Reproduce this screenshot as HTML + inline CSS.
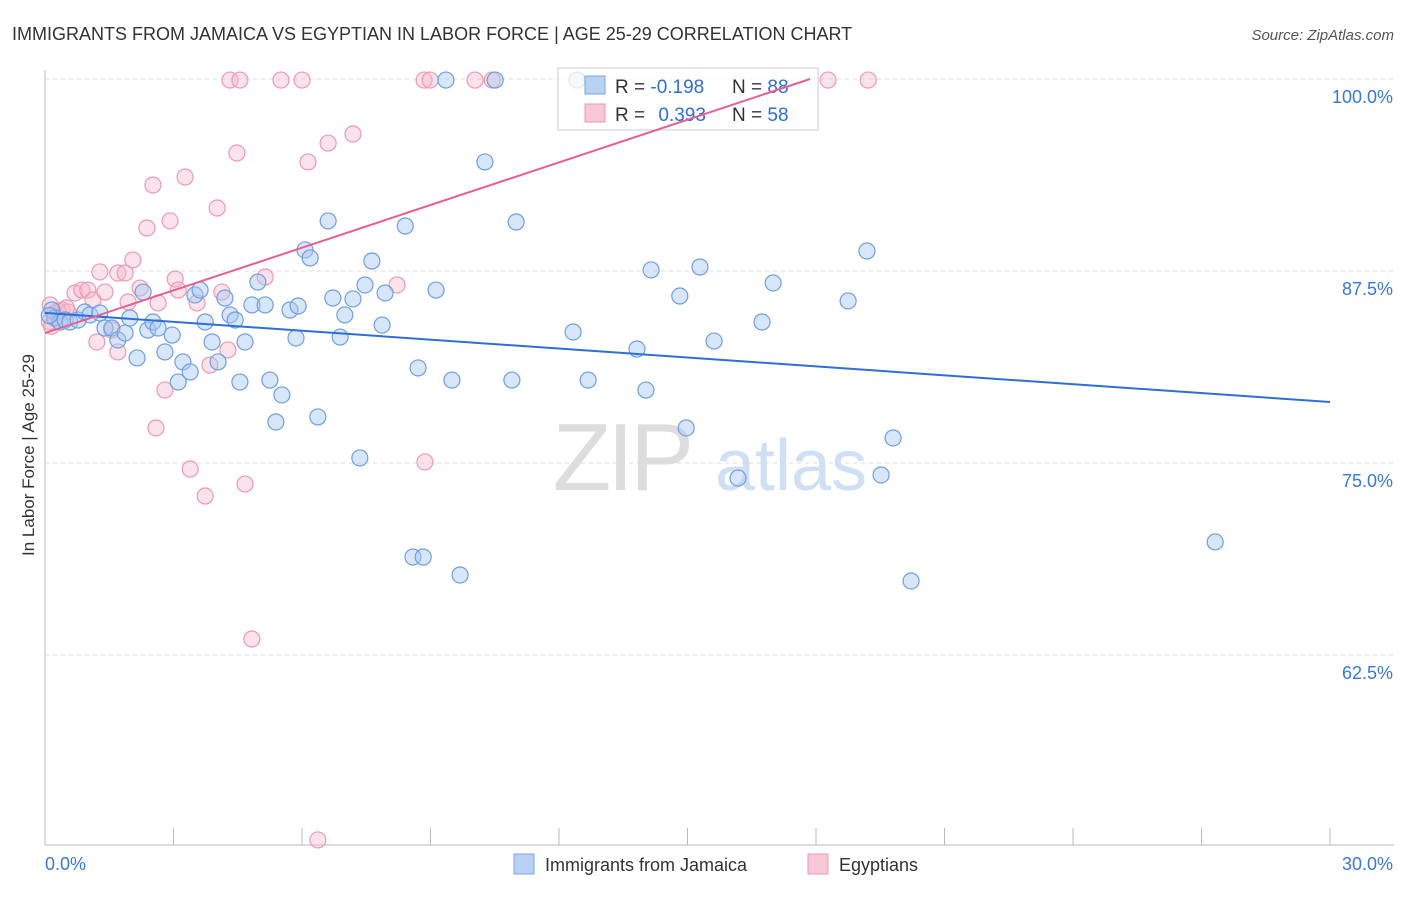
<!DOCTYPE html>
<html><head><meta charset="utf-8">
<style>
body{margin:0;background:#fff;font-family:"Liberation Sans",sans-serif;}
svg text{font-family:"Liberation Sans",sans-serif;}
</style></head>
<body>
<svg id="chart" width="1406" height="892" viewBox="0 0 1406 892">
<text x="12" y="40" font-size="18" fill="#333">IMMIGRANTS FROM JAMAICA VS EGYPTIAN IN LABOR FORCE | AGE 25-29 CORRELATION CHART</text>
<text x="1394" y="40" font-size="15" fill="#555" text-anchor="end" font-style="italic">Source: ZipAtlas.com</text>
<text x="34" y="455" font-size="17" fill="#333" text-anchor="middle" transform="rotate(-90 34 455)">In Labor Force | Age 25-29</text>
<g id="grid"></g>
<g id="watermark">
<text x="690" y="490" font-size="96" fill="#ddd" text-anchor="end" font-family="Liberation Serif" letter-spacing="-4">ZIP</text>
<text x="715" y="490" font-size="72" fill="#cfe0f4">atlas</text>
</g>
<g id="pts"></g>
<g id="legend">
<rect x="558" y="68" width="260" height="62" fill="#fff" fill-opacity="0.75" stroke="#ccc"/>
<rect x="585" y="76" width="20" height="18" fill="#b9d2f3" stroke="#7aa5e6"/>
<rect x="585" y="104" width="20" height="18" fill="#f9c7d6" stroke="#ec9ab3"/>
<text x="615" y="93" font-size="19" fill="#333">R = <tspan fill="#2f6fd6">-0.198</tspan></text>
<text x="732" y="93" font-size="19" fill="#333">N = <tspan fill="#2f6fd6">88</tspan></text>
<text x="615" y="121" font-size="19" fill="#333">R = <tspan fill="#2f6fd6" dx="8">0.393</tspan></text>
<text x="732" y="121" font-size="19" fill="#333">N = <tspan fill="#2f6fd6">58</tspan></text>
</g>
<g id="lines"></g>
<g>
<rect x="514" y="854" width="20" height="20" fill="#b9d2f3" stroke="#7aa5e6"/>
<text x="545" y="871" font-size="18" fill="#333">Immigrants from Jamaica</text>
<rect x="808" y="854" width="20" height="20" fill="#f9c7d6" stroke="#ec9ab3"/>
<text x="839" y="871" font-size="18" fill="#333">Egyptians</text>
</g>
</svg>
<script>
const xTickLabels=["0.0%","30.0%"];
const yTicks=[100,87.5,75,62.5];
const yTickLabels=["100.0%","87.5%","75.0%","62.5%"];
const jamX=[0.16,0.23,0.35,0.47,0.58,0.77,0.93,1.05,1.28,1.4,1.56,1.7,1.87,1.98,2.15,2.29,2.4,2.52,2.64,2.8,2.97,3.11,3.22,3.39,3.5,3.62,3.74,3.9,4.04,4.2,4.32,4.44,4.55,4.67,4.83,4.97,5.14,5.25,5.39,5.53,5.72,5.86,5.91,6.07,6.19,6.37,6.61,6.72,6.89,7.0,7.19,7.35,7.47,7.63,7.87,7.94,8.41,8.71,8.59,8.83,9.13,9.36,9.5,9.69,10.27,10.51,10.9,11.0,12.33,12.42,12.68,13.82,14.03,14.15,14.82,14.97,15.29,15.62,16.18,16.74,17.0,18.75,19.19,19.52,19.8,20.22,27.32,0.1];
const jamY=[84.96,84.44,84.18,84.31,84.18,84.31,84.83,84.64,84.77,83.79,83.79,83.01,83.46,84.44,81.84,86.13,83.66,84.18,83.79,82.23,83.33,80.27,81.58,80.93,85.94,86.26,84.18,82.88,81.58,85.74,84.64,84.31,80.27,82.88,85.29,86.78,85.29,80.4,77.67,79.43,84.96,83.14,85.22,88.87,88.35,78.0,90.76,85.74,83.2,84.64,85.68,75.33,86.59,88.15,83.98,86.07,90.43,81.19,68.88,68.88,86.26,99.93,80.4,67.71,94.6,99.93,80.4,90.69,83.53,99.93,80.4,82.42,79.75,87.57,85.87,77.28,87.76,82.94,74.02,84.18,86.72,85.55,88.8,74.22,76.63,67.32,69.86,84.6];
const egyX=[0.12,0.23,0.4,0.54,0.7,0.86,1.0,1.12,1.21,1.28,1.4,1.56,1.7,1.7,1.87,1.94,2.05,2.22,2.38,2.52,2.59,2.64,2.8,2.92,3.04,3.11,3.27,3.39,3.55,3.74,3.85,4.02,4.13,4.27,4.32,4.48,4.55,4.67,4.83,5.14,5.51,6.0,6.14,6.37,6.61,7.19,8.22,8.85,8.87,8.99,10.04,10.44,18.28,19.22,0.1,0.3,0.5,0.15];
const egyY=[85.29,84.77,84.96,84.83,86.07,86.26,86.26,85.61,82.88,87.44,86.13,83.66,87.37,82.23,87.37,85.48,88.22,86.39,90.3,93.1,77.28,85.42,79.75,90.76,86.98,86.26,93.62,74.61,85.42,72.85,81.38,91.6,86.13,82.36,99.93,95.18,99.93,73.63,63.54,87.11,99.93,99.93,94.6,50.46,95.83,96.42,86.59,99.93,75.07,99.93,99.93,99.93,99.93,99.93,84.2,84.9,85.1,83.9];
const jamTrend=[84.77,78.97];
const egyTrend=[83.46,0.926];
const X0=45,X1=1330,YT=79;
const sx=v=>X0+v/30*(X1-X0);
const sy=v=>YT+(100-v)/12.5*192;
const NS="http://www.w3.org/2000/svg";
function mk(tag,attrs,parent){const e=document.createElementNS(NS,tag);for(const k in attrs)e.setAttribute(k,attrs[k]);parent.appendChild(e);return e;}
const grid=document.getElementById('grid');
const svg=document.getElementById('chart');
mk('line',{x1:X0,y1:70,x2:X0,y2:845,stroke:'#bbb'},grid);
mk('line',{x1:X0,y1:845,x2:1394,y2:845,stroke:'#bbb'},grid);
yTicks.forEach((t,i)=>{
  mk('line',{x1:X0,y1:sy(t),x2:1394,y2:sy(t),stroke:'#ddd','stroke-dasharray':'4 4'},grid);
  const tx=mk('text',{x:1393,y:sy(t)+24,'font-size':18,fill:'#3a78d8','text-anchor':'end'},svg);
  tx.textContent=yTickLabels[i];
  
  
});
for(let i=0;i<=10;i++){mk('line',{x1:sx(i*3),y1:828,x2:sx(i*3),y2:845,stroke:'#bbb'},grid);}
const xl0=mk('text',{x:45,y:870,'font-size':18,fill:'#3a78d8'},svg);xl0.textContent=xTickLabels[0];


const xl1=mk('text',{x:1393,y:870,'font-size':18,fill:'#3a78d8','text-anchor':'end'},svg);xl1.textContent=xTickLabels[1];


const pts=document.getElementById('pts');
egyX.forEach((x,i)=>{const c=mk('circle',{cx:sx(x),cy:sy(egyY[i]),r:8,fill:'#f7b6ca','fill-opacity':0.4,stroke:'#ec9ab3','stroke-width':1.2},pts);

});
jamX.forEach((x,i)=>{const c=mk('circle',{cx:sx(x),cy:sy(jamY[i]),r:8,fill:'#a9c7f1','fill-opacity':0.45,stroke:'#6f9ee4','stroke-width':1.2},pts);

});
const lines=document.getElementById('lines');
const bl=mk('line',{x1:sx(0),y1:sy(jamTrend[0]),x2:sx(30),y2:sy(jamTrend[1]),stroke:'#2f6fd6','stroke-width':2},lines);


const xe=(100-egyTrend[0])/egyTrend[1];
const pl=mk('line',{x1:sx(0),y1:sy(egyTrend[0]),x2:sx(xe),y2:sy(100),stroke:'#e8608e','stroke-width':2},lines);


</script>
</body></html>
